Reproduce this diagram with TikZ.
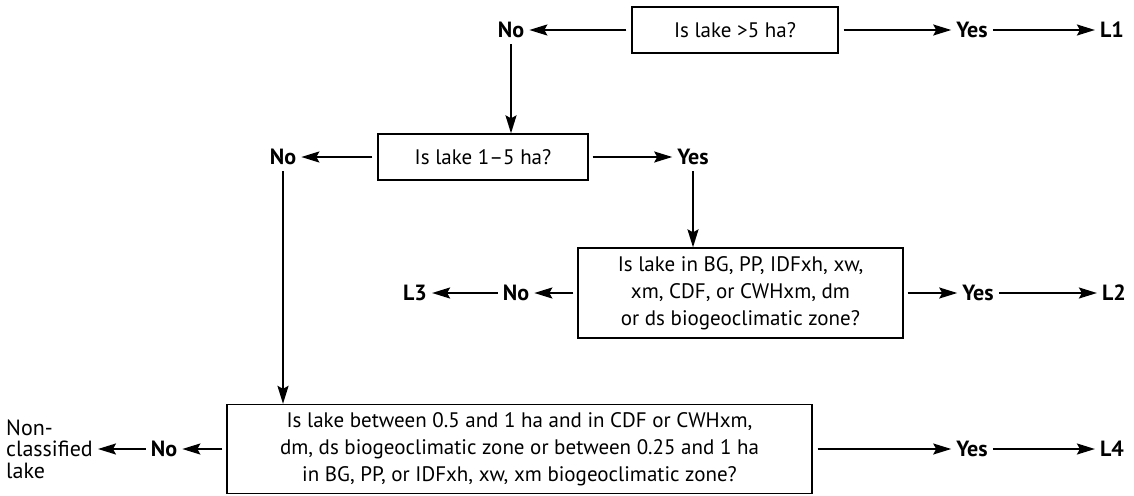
\documentclass[tikz,border=0pt]{standalone}
\usepackage{fontspec}
\setmainfont{PT Sans}
\usetikzlibrary{arrows.meta}

\begin{document}
\begin{tikzpicture}[x=1pt, y=-1pt,
    box/.style={draw, line width=1.3pt, align=center, inner sep=0pt,
        font=\fontsize{21}{27}\selectfont},
    lbl/.style={font=\fontsize{22}{24}\selectfont\bfseries, inner sep=5pt},
    arr/.style={-{Stealth[length=18pt,width=11pt,inset=3pt]}, line width=1.9pt}]
        \useasboundingbox (0,0) rectangle (1134,495);

        % first question
        \node[box, minimum width=206, minimum height=46] (q1) at (735,30) {Is lake >5 ha?};
        \node[lbl] (no1) at (511,30) {No};
        \node[lbl] (yes1) at (972,30) {Yes};
        \node[lbl] (l1) at (1112,30) {L1};
        \draw[arr, shorten <=5pt] (q1.west) -- (no1.east);
        \draw[arr, shorten <=5pt] (q1.east) -- (yes1.west);
        \draw[arr] (yes1.east) -- (l1.west);

        % second question
        \node[box, minimum width=210, minimum height=46] (q2) at (483,157) {Is lake 1–5 ha?};
        \draw[arr, shorten <=1pt] (no1.south) -- (no1.south |- q2.north);
        \node[lbl] (no2) at (283,157) {No};
        \node[lbl] (yes2) at (693,157) {Yes};
        \draw[arr, shorten <=5pt] (q2.west) -- (no2.east);
        \draw[arr, shorten <=4pt] (q2.east) -- (yes2.west);

        % zone question
        \node[box, minimum width=325, minimum height=90] (q3) at (740.5,293)
            {Is lake in BG, PP, IDFxh, xw,\\xm, CDF, or CWHxm, dm\\or ds biogeoclimatic zone?};
        \draw[arr, shorten <=1pt] (yes2.south) -- (yes2.south |- q3.north);
        \node[lbl] (no3) at (516,293) {No};
        \node[lbl] (l3) at (415,293) {L3};
        \node[lbl] (yes3) at (978,293) {Yes};
        \node[lbl] (l2) at (1114,293) {L2};
        \draw[arr, shorten <=4pt] (q3.west) -- (no3.east);
        \draw[arr] (no3.west) -- (l3.east);
        \draw[arr, shorten <=4pt] (q3.east) -- (yes3.west);
        \draw[arr] (yes3.east) -- (l2.west);

        % last question
        \node[box, minimum width=585, minimum height=89] (q4) at (519.5,449)
            {Is lake between 0.5 and 1 ha and in CDF or CWHxm,\\dm, ds biogeoclimatic zone or between 0.25 and 1 ha\\in BG, PP, or IDFxh, xw, xm biogeoclimatic zone?};
        \draw[arr, shorten <=1pt] (no2.south) -- (no2.south |- q4.north);
        \node[lbl] (no4) at (164,449) {No};
        \node[anchor=west, align=left, inner sep=0pt, font=\fontsize{22}{21.5}\selectfont] (nocl) at (6,449) {Non-\\classified\\lake};
        \node[lbl] (yes4) at (972,449) {Yes};
        \node[lbl] (l4) at (1112,449) {L4};
        \draw[arr, shorten <=4pt] (q4.west) -- (no4.east);
        \draw[arr, shorten >=5pt] (no4.west) -- (nocl.east |- no4.west);
        \draw[arr, shorten <=5pt] (q4.east) -- (yes4.west);
        \draw[arr] (yes4.east) -- (l4.west);

    \end{tikzpicture}
\end{document}
